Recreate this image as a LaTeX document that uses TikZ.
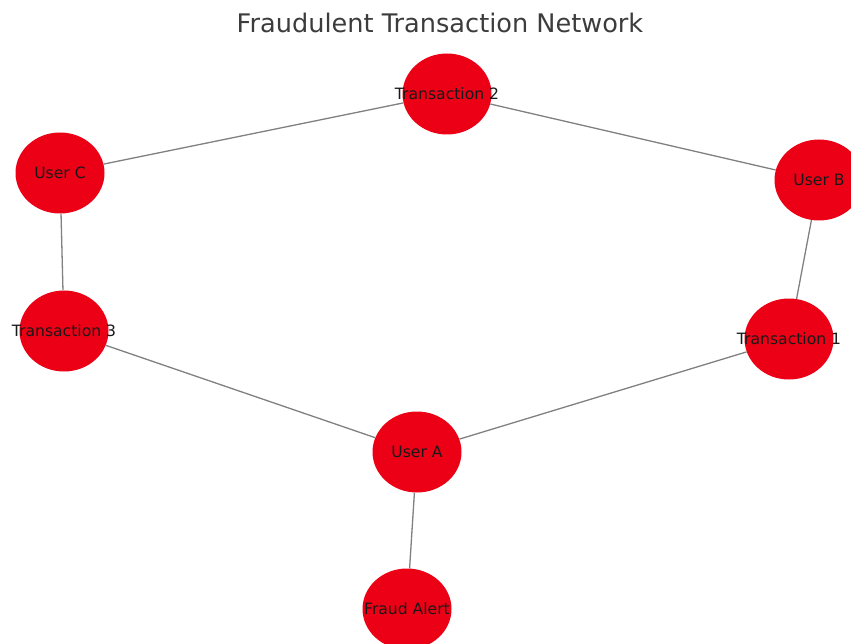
\documentclass[tikz,border=0pt]{standalone}
\usepackage{fontspec}
\setmainfont{DejaVu Sans}
\usepackage{tikz}
\usetikzlibrary{shapes.geometric}

\definecolor{alertred}{HTML}{EC0016}
\definecolor{edgegray}{HTML}{808080}
\definecolor{titlegray}{HTML}{3C3C3C}

% label of zero width, so the ellipse keeps its size
\newcommand{\vlbl}[1]{\makebox[0pt]{#1}}

\begin{document}
\begin{tikzpicture}[x=1pt,y=-1pt,
  vtx/.style={ellipse,fill=alertred,minimum width=89pt,minimum height=81pt,inner sep=0pt,
    text=black!90,font=\fontsize{15.6}{18}\selectfont},
  lnk/.style={draw=edgegray,line width=1.3pt}]
\useasboundingbox (0,0) rectangle (851,644);
\node[text=titlegray,font=\fontsize{25.6}{30}\selectfont] (title) at (440,23) {Fraudulent Transaction Network};
\node[vtx] (t2) at (447,94) {\vlbl{Transaction 2}};
\node[vtx] (uc) at (60,173) {\vlbl{User C}};
\node[vtx] (ub) at (819,180) {\vlbl{User B}};
\node[vtx] (t3) at (64,331) {\vlbl{Transaction 3}};
\node[vtx] (t1) at (789,339) {\vlbl{Transaction 1}};
\node[vtx] (ua) at (417,452) {\vlbl{User A}};
\node[vtx] (fa) at (407,609) {\vlbl{Fraud Alert}};
\draw[lnk] (t2)--(uc); \draw[lnk] (t2)--(ub); \draw[lnk] (uc)--(t3); \draw[lnk] (ub)--(t1);
\draw[lnk] (t3)--(ua); \draw[lnk] (t1)--(ua); \draw[lnk] (ua)--(fa);
\end{tikzpicture}
\end{document}
